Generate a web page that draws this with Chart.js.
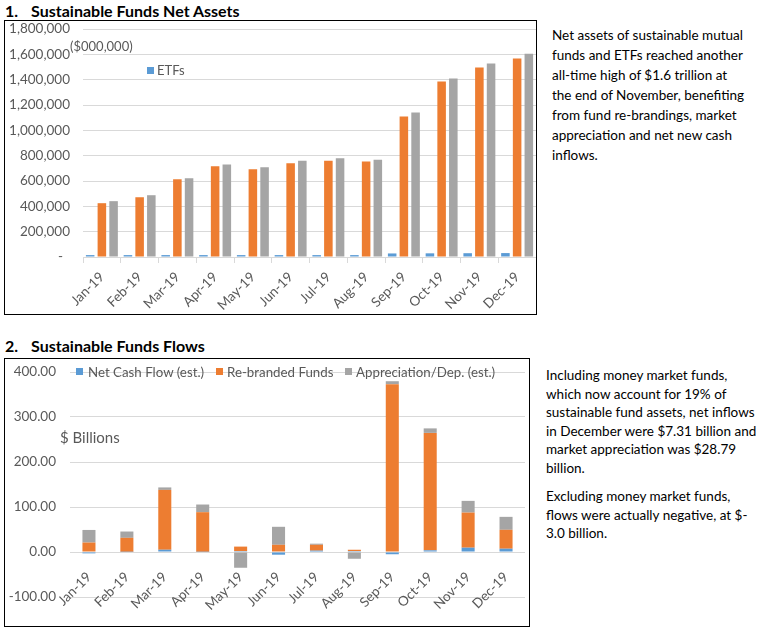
<!DOCTYPE html>
<html>
<head>
<meta charset="utf-8">
<script src="https://cdn.jsdelivr.net/npm/chart.js@4/dist/chart.umd.min.js"></script>
<style>
  body { margin: 0; width: 760px; height: 642px; background: #fff; font-family: Lato, sans-serif; position: relative; overflow: hidden; }
  .titulo { position: absolute; left: 5px; font-weight: bold; font-size: 16px; color: #000; white-space: nowrap; }
  .titulo span { display: inline-block; width: 13px; }
  .caixa { position: absolute; border: 1px solid #000; box-sizing: border-box; }
  .rotulo { position: absolute; color: #595959; white-space: nowrap; line-height: 16px; }
  .quad { position: absolute; width: 7px; height: 7px; }
  .texto { position: absolute; font-size: 13.5px; color: #000; white-space: nowrap; }
</style>
</head>
<body>

<div class="titulo" style="top:1px">1.<span></span>Sustainable Funds Net Assets</div>
<div class="caixa" style="left:4px; top:20px; width:533px; height:295px">
  <canvas id="graficoAtivos"></canvas>
</div>
<div class="rotulo" style="left:70px; top:38px; font-size:13px">($000,000)</div>
<div class="quad" style="left:147px; top:67px; background:#5b9bd5"></div>
<div class="rotulo" style="left:157px; top:62px; font-size:13px">ETFs</div>

<div class="titulo" style="top:336px">2.<span></span>Sustainable Funds Flows</div>
<div class="caixa" style="left:4px; top:358px; width:526px; height:269px">
  <canvas id="graficoFluxos"></canvas>
</div>
<div class="quad" style="left:76px; top:368px; background:#5b9bd5"></div>
<div class="rotulo" style="left:88px; top:364px; font-size:13.3px">Net Cash Flow (est.)</div>
<div class="quad" style="left:216px; top:368px; background:#ed7d31"></div>
<div class="rotulo" style="left:227px; top:364px; font-size:13.3px">Re-branded Funds</div>
<div class="quad" style="left:345px; top:368px; background:#a5a5a5"></div>
<div class="rotulo" style="left:356px; top:364px; font-size:13.3px">Appreciation/Dep. (est.)</div>
<div class="rotulo" style="left:60px; top:429px; font-size:15px">$ Billions</div>

<div class="texto" style="left:552px; top:25px; line-height:20px">
Net assets of sustainable mutual<br>
funds and ETFs reached another<br>
all-time high of $1.6 trillion at<br>
the end of November, benefiting<br>
from fund re-brandings, market<br>
appreciation and net new cash<br>
inflows.
</div>

<div class="texto" style="left:546px; top:366px; line-height:18.5px">
Including money market funds,<br>
which now account for 19% of<br>
sustainable fund assets, net inflows<br>
in December were $7.31 billion and<br>
market appreciation was $28.79<br>
billion.
<div style="height:10px"></div>
Excluding money market funds,<br>
flows were actually negative, at $-<br>
3.0 billion.
</div>

<script>
const meses = ['Jan-19', 'Feb-19', 'Mar-19', 'Apr-19', 'May-19', 'Jun-19', 'Jul-19', 'Aug-19', 'Sep-19', 'Oct-19', 'Nov-19', 'Dec-19'];

// gráfico 1 - ativos líquidos ($000,000)
const ativosETFs = [15000, 15000, 15000, 15000, 15000, 15000, 15000, 15000, 28000, 29000, 30000, 31000];
const ativosFundos = [425000, 472000, 614000, 717000, 693000, 740000, 761000, 754000, 1110000, 1386000, 1496000, 1567000];
const ativosTotal = [441000, 488000, 622000, 730000, 709000, 761000, 780000, 769000, 1142000, 1409000, 1528000, 1606000];
const ticksAtivos = [0, 200000, 400000, 600000, 800000, 1000000, 1200000, 1400000, 1600000, 1800000];

// gráfico 2 - fluxos ($ bilhões)
const fluxoCaixa = [-3, 0.5, 5, 0.5, 2, -6, 3, 2, -5, 3.7, 9.6, 7.31];
const fundosRebrand = [21, 31, 133, 88, 10, 16, 13, 3, 373, 261, 78, 42];
const valorizacao = [28, 14, 5.5, 17, -35, 40, 2.5, -15, 6.5, 10, 26, 28.79];
const ticksFluxos = [-100, 0, 100, 200, 300, 400];

const AZUL = '#5b9bd5';
const LARANJA = '#ed7d31';
const CINZA = '#a5a5a5';
const GRADE = '#d9d9d9';
const INVISIVEL = 'rgba(0,0,0,0)';

Chart.defaults.font.family = 'Lato, sans-serif';
Chart.defaults.font.size = 13.5;
Chart.defaults.color = '#595959';
Chart.defaults.animation = false;

function desenharAtivos() {
  const ctx = document.getElementById('graficoAtivos').getContext('2d');
  return new Chart(ctx, {
    type: 'bar',
    data: {
      labels: meses,
      datasets: [
        { label: 'ETFs', data: ativosETFs, backgroundColor: AZUL },
        { label: 'Mutual Funds', data: ativosFundos, backgroundColor: LARANJA },
        { label: 'Total', data: ativosTotal, backgroundColor: CINZA }
      ]
    },
    options: {
      responsive: true,
      maintainAspectRatio: false,
      layout: { padding: 0 },
      datasets: { bar: { categoryPercentage: 0.93, barPercentage: 0.73 } },
      scales: {
        x: {
          grid: { drawOnChartArea: false, offset: true, tickLength: 6, color: GRADE },
          border: { color: GRADE },
          ticks: { minRotation: 45, maxRotation: 45, padding: 6 },
          afterFit: s => { s.height = 57; }
        },
        y: {
          min: 0,
          max: 1800000,
          afterBuildTicks: s => { s.ticks = ticksAtivos.map(v => ({ value: v })); },
          // a margem dos rótulos vem do tickLength (padding soma no topo)
          grid: { color: GRADE, tickLength: 13, tickColor: INVISIVEL },
          border: { display: false },
          ticks: {
            padding: 0,
            callback: v => v === 0 ? '-  ' : v.toLocaleString('en-US')
          },
          afterFit: s => { s.width = 78; }
        }
      },
      plugins: { legend: { display: false }, tooltip: { enabled: false } }
    }
  });
}

function desenharFluxos() {
  const ctx = document.getElementById('graficoFluxos').getContext('2d');
  return new Chart(ctx, {
    type: 'bar',
    data: {
      labels: meses,
      datasets: [
        { label: 'Net Cash Flow (est.)', data: fluxoCaixa, backgroundColor: AZUL },
        { label: 'Re-branded Funds', data: fundosRebrand, backgroundColor: LARANJA },
        { label: 'Appreciation/Dep. (est.)', data: valorizacao, backgroundColor: CINZA }
      ]
    },
    options: {
      responsive: true,
      maintainAspectRatio: false,
      layout: { padding: { top: 13, right: 4, left: 0, bottom: 29 } },
      datasets: { bar: { categoryPercentage: 1, barPercentage: 0.344 } },
      scales: {
        x: {
          stacked: true,
          position: { y: 0 },
          grid: { display: false },
          border: { display: false },
          ticks: { minRotation: 45, maxRotation: 45, padding: 9 },
          afterFit: s => { s.height = 0; }
        },
        y: {
          stacked: true,
          min: -100,
          max: 400,
          afterBuildTicks: s => { s.ticks = ticksFluxos.map(v => ({ value: v })); },
          grid: { color: GRADE, tickLength: 14, tickColor: INVISIVEL },
          border: { display: false },
          ticks: { padding: 0, callback: v => v.toFixed(2) },
          afterFit: s => { s.width = 65; }
        }
      },
      plugins: { legend: { display: false }, tooltip: { enabled: false } }
    }
  });
}

desenharAtivos();
desenharFluxos();
</script>
</body>
</html>
